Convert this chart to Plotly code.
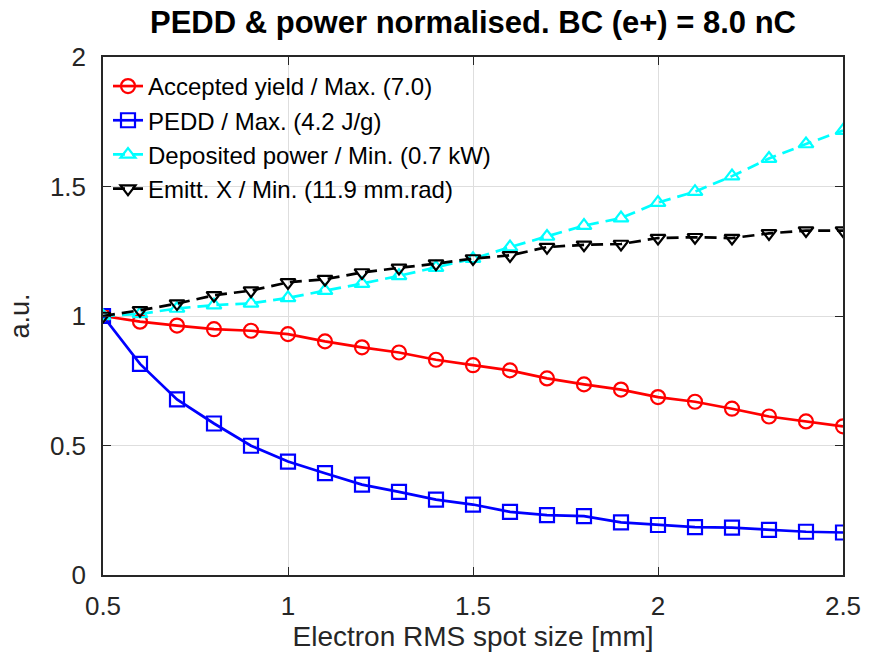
import plotly.graph_objects as go

spot_size = [0.5, 0.6, 0.7, 0.8, 0.9, 1.0, 1.1, 1.2, 1.3, 1.4, 1.5,
             1.6, 1.7, 1.8, 1.9, 2.0, 2.1, 2.2, 2.3, 2.4, 2.5]
accepted_yield = [1.0, 0.978, 0.963, 0.949, 0.943, 0.930, 0.902, 0.879, 0.859, 0.831, 0.810,
                  0.790, 0.759, 0.736, 0.716, 0.687, 0.669, 0.642, 0.612, 0.593, 0.574]
pedd = [1.0, 0.815, 0.678, 0.585, 0.499, 0.438, 0.393, 0.349, 0.321, 0.291, 0.272,
        0.244, 0.231, 0.227, 0.203, 0.193, 0.185, 0.183, 0.174, 0.167, 0.164]
dep_power = [1.0, 1.008, 1.029, 1.042, 1.049, 1.070, 1.098, 1.125, 1.155, 1.187, 1.221,
             1.266, 1.307, 1.349, 1.378, 1.438, 1.480, 1.540, 1.608, 1.664, 1.716]
emitt_x = [1.0, 1.022, 1.048, 1.080, 1.098, 1.130, 1.142, 1.168, 1.186, 1.202, 1.222,
           1.234, 1.266, 1.275, 1.278, 1.301, 1.304, 1.301, 1.319, 1.330, 1.330]

names = ["Accepted yield / Max. (7.0)", "PEDD / Max. (4.2 J/g)",
         "Deposited power / Min. (0.7 kW)", "Emitt. X / Min. (11.9 mm.rad)"]
x_ticks = [0.5, 1, 1.5, 2, 2.5]
x_ticklabels = ["0.5", "1", "1.5", "2", "2.5"]
y_ticks = [0, 0.5, 1, 1.5, 2]
y_ticklabels = ["0", "0.5", "1", "1.5", "2"]

FONT = "Liberation Sans, Arial, sans-serif"
AX = "#262626"

fig = go.Figure()
series = [
    (accepted_yield, names[0], "#ff0000", "circle-open", 14, "solid"),
    (pedd, names[1], "#0000ff", "square-open", 14, "solid"),
    (dep_power, names[2], "#00ffff", "triangle-up-open", 13, "12px,7px"),
    (emitt_x, names[3], "#000000", "triangle-down-open", 13, "12px,7px"),
]
for y, nm, col, sym, sz, dash in series:
    fig.add_trace(go.Scatter(
        x=spot_size, y=y, name=nm, mode="lines+markers",
        line=dict(color=col, width=2.7, dash=dash),
        marker=dict(symbol=sym, size=sz, color=col, line=dict(color=col, width=2.2)),
    ))

axis_common = dict(
    showline=True, linecolor=AX, linewidth=1.5, mirror="ticks",
    ticks="inside", ticklen=8, tickwidth=1.2, tickcolor=AX,
    showgrid=True, gridcolor="#dedede", gridwidth=1,
    zeroline=False, tickfont=dict(family=FONT, size=26, color=AX),
)

fig.update_layout(
    width=879, height=659,
    margin=dict(l=103, r=36, t=57, b=81),
    paper_bgcolor="white", plot_bgcolor="white",
    title=dict(text="<b>PEDD &amp; power normalised. BC (e+) = 8.0 nC</b>",
               x=(103 + 843) / 2 / 879, xanchor="center", y=1 - 22 / 659, yanchor="middle",
               font=dict(family=FONT, size=31, color="#000000")),
    xaxis=dict(range=[0.5, 2.5], tickvals=x_ticks, ticktext=x_ticklabels,
               title=dict(text="Electron RMS spot size [mm]", standoff=6,
                          font=dict(family=FONT, size=28, color=AX)),
               ticklabelstandoff=7, **axis_common),
    yaxis=dict(range=[0, 2], tickvals=y_ticks, ticktext=y_ticklabels,
               title=dict(text="a.u.", standoff=12,
                          font=dict(family=FONT, size=27, color=AX)),
               ticklabelstandoff=10, **axis_common),
    legend=dict(x=5 / 740, y=1 - 7 / 521, xanchor="left", yanchor="top",
                bgcolor="rgba(0,0,0,0)", borderwidth=0,
                font=dict(family=FONT, size=24, color="#000000"),
                itemwidth=30, tracegroupgap=0),
    showlegend=True,
)

fig.write_html("out.html")
